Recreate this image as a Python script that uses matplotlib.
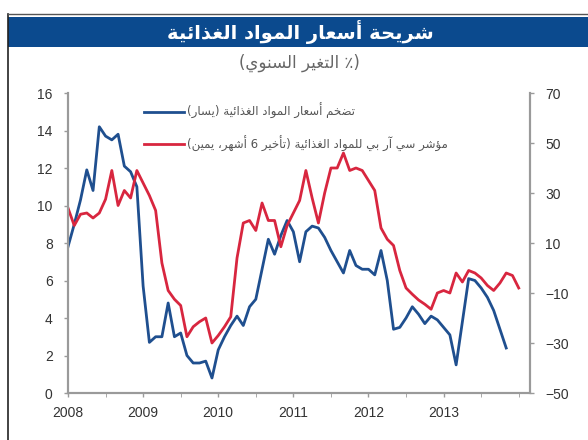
import numpy as np
import matplotlib.pyplot as plt
from matplotlib.patches import Rectangle
from matplotlib.lines import Line2D

# Data, monthly from Jan 2008
food_inflation = [7.8, 9.0, 10.3, 11.9, 10.8, 14.2, 13.7, 13.5, 13.8, 12.1, 11.8, 11.0,
                  5.7, 2.7, 3.0, 3.0, 4.8, 3.0, 3.2, 2.0, 1.6, 1.6, 1.7, 0.8,
                  2.3, 3.0, 3.6, 4.1, 3.6, 4.6, 5.0, 6.6, 8.2, 7.4, 8.4, 9.2,
                  8.6, 7.0, 8.6, 8.9, 8.8, 8.3, 7.6, 7.0, 6.4, 7.6, 6.8, 6.6,
                  6.6, 6.3, 7.6, 6.0, 3.4, 3.5, 4.0, 4.6, 4.2, 3.7, 4.1, 3.9,
                  3.5, 3.1, 1.5, 3.8, 6.1, 6.0, 5.6, 5.1, 4.4, 3.4, 2.4]
crb_food = [24, 17, 21.5, 22, 20, 22, 27.5, 39, 25, 31, 28, 39,
            34, 29, 23, 2, -9, -12.5, -15, -27.5, -23.5, -21.5, -20, -30,
            -27, -23.5, -19.5, 4, 18, 19, 15, 26, 19, 19, 8.5, 17,
            22, 27, 39, 28, 18, 30, 40, 40, 46, 39, 40, 39,
            35, 31, 16, 11.5, 9, -1, -8, -10.5, -12.8, -14.5, -16.5, -10,
            -9, -10, -2, -5.6, -1, -2, -4, -7, -9, -6, -2, -3, -8]
years = [2008, 2009, 2010, 2011, 2012, 2013]

title = "شريحة أسعار المواد الغذائية"
subtitle = "(٪ التغير السنوي)"
label_blue = "تضخم أسعار المواد الغذائية (يسار)"
label_red = "مؤشر سي آر بي للمواد الغذائية (تأخير 6 أشهر، يمين)"

# minimal Arabic shaping (no complex text layout in matplotlib)
_seq = [('ء', 1), ('آ', 2), ('أ', 2), ('ؤ', 2), ('إ', 2), ('ئ', 4), ('ا', 2), ('ب', 4),
        ('ة', 2), ('ت', 4), ('ث', 4), ('ج', 4), ('ح', 4), ('خ', 4), ('د', 2), ('ذ', 2),
        ('ر', 2), ('ز', 2), ('س', 4), ('ش', 4), ('ص', 4), ('ض', 4), ('ط', 4), ('ظ', 4),
        ('ع', 4), ('غ', 4), ('ف', 4), ('ق', 4), ('ك', 4), ('ل', 4), ('م', 4), ('ن', 4),
        ('ه', 4), ('و', 2), ('ى', 2), ('ي', 4)]
FORMS = {}
_code = 0xFE80
for ch, k in _seq:
    FORMS[ch] = (_code, k)
    _code += k
LAM_ALEF = {'آ': 0xFEF5, 'أ': 0xFEF7, 'إ': 0xFEF9, 'ا': 0xFEFB}


def shape(text):
    out = []
    i, n = 0, len(text)
    while i < n:
        c = text[i]
        if c not in FORMS:
            out.append(c)
            i += 1
            continue
        base, k = FORMS[c]
        prev = text[i - 1] if i > 0 else ''
        nxt = text[i + 1] if i + 1 < n else ''
        left = prev in FORMS and FORMS[prev][1] == 4
        if c == 'ل' and nxt in LAM_ALEF:
            out.append(chr(LAM_ALEF[nxt] + (1 if left else 0)))
            i += 2
            continue
        right = k == 4 and nxt in FORMS and FORMS[nxt][1] > 1
        off = 3 if (left and right) else 1 if left else 2 if right else 0
        out.append(chr(base + off))
        i += 1
    return ''.join(out)[::-1].translate(str.maketrans('()', ')('))


plt.rcParams['font.family'] = ['Liberation Sans', 'DejaVu Sans']

fig = plt.figure(figsize=(5.88, 4.4), dpi=100)
fig.add_artist(Rectangle((8 / 588, 393 / 440), 1, 30 / 440, transform=fig.transFigure,
                         facecolor='#0b4a8e', edgecolor='none'))
fig.add_artist(Line2D([7.5 / 588, 7.5 / 588], [0, 426 / 440], transform=fig.transFigure,
                      color='#222222', lw=1.2))
fig.add_artist(Line2D([7.5 / 588, 1], [426 / 440, 426 / 440], transform=fig.transFigure,
                      color='#555555', lw=1.0))
fig.text(0.51, 408 / 440, shape(title), color='white', fontsize=14, fontweight='bold',
         ha='center', va='center', family='DejaVu Sans')
fig.text(0.51, 377 / 440, shape(subtitle), color='#666666', fontsize=12,
         ha='center', va='center', family='DejaVu Sans')

ax = fig.add_axes([68 / 588, 47 / 440, 462 / 588, 300 / 440])
ax2 = ax.twinx()

x_blue = 2008 + np.arange(len(food_inflation)) / 12
x_red = 2008 + np.arange(len(crb_food)) / 12
l1, = ax.plot(x_blue, food_inflation, color='#1f4f8f', lw=2.0, label=shape(label_blue))
l2, = ax2.plot(x_red, crb_food, color='#d8263f', lw=2.0, label=shape(label_red))

ax.set_xlim(2008, 2014.15)
ax.set_ylim(0, 16)
ax2.set_ylim(-50, 70)
ax.set_yticks(range(0, 17, 2))
ax2.set_yticks(range(-50, 71, 20))
ax.set_xticks(years)
ax.set_xticks(np.arange(2008, 2014.01, 0.5), minor=True)

for a in (ax, ax2):
    for s in a.spines.values():
        s.set_color('#9a9a9a')
        s.set_linewidth(1.5)
    a.spines['top'].set_visible(False)
    a.tick_params(colors='#9a9a9a', labelcolor='#333333', labelsize=10, length=3, width=1)
ax.tick_params(axis='x', which='minor', length=3, color='#9a9a9a')
ax.tick_params(axis='x', pad=6)
ax.tick_params(axis='y', pad=8)
ax2.tick_params(axis='y', pad=8)

leg = ax2.legend(handles=[l1, l2], loc='upper left', bbox_to_anchor=(0.155, 0.982),
                 frameon=False, fontsize=8.5, handlelength=3.4, handletextpad=0.2,
                 labelspacing=1.4, borderaxespad=0)
for t in leg.get_texts():
    t.set_color('#555555')
    t.set_family('DejaVu Sans')

fig.savefig('out.png', dpi=100)
